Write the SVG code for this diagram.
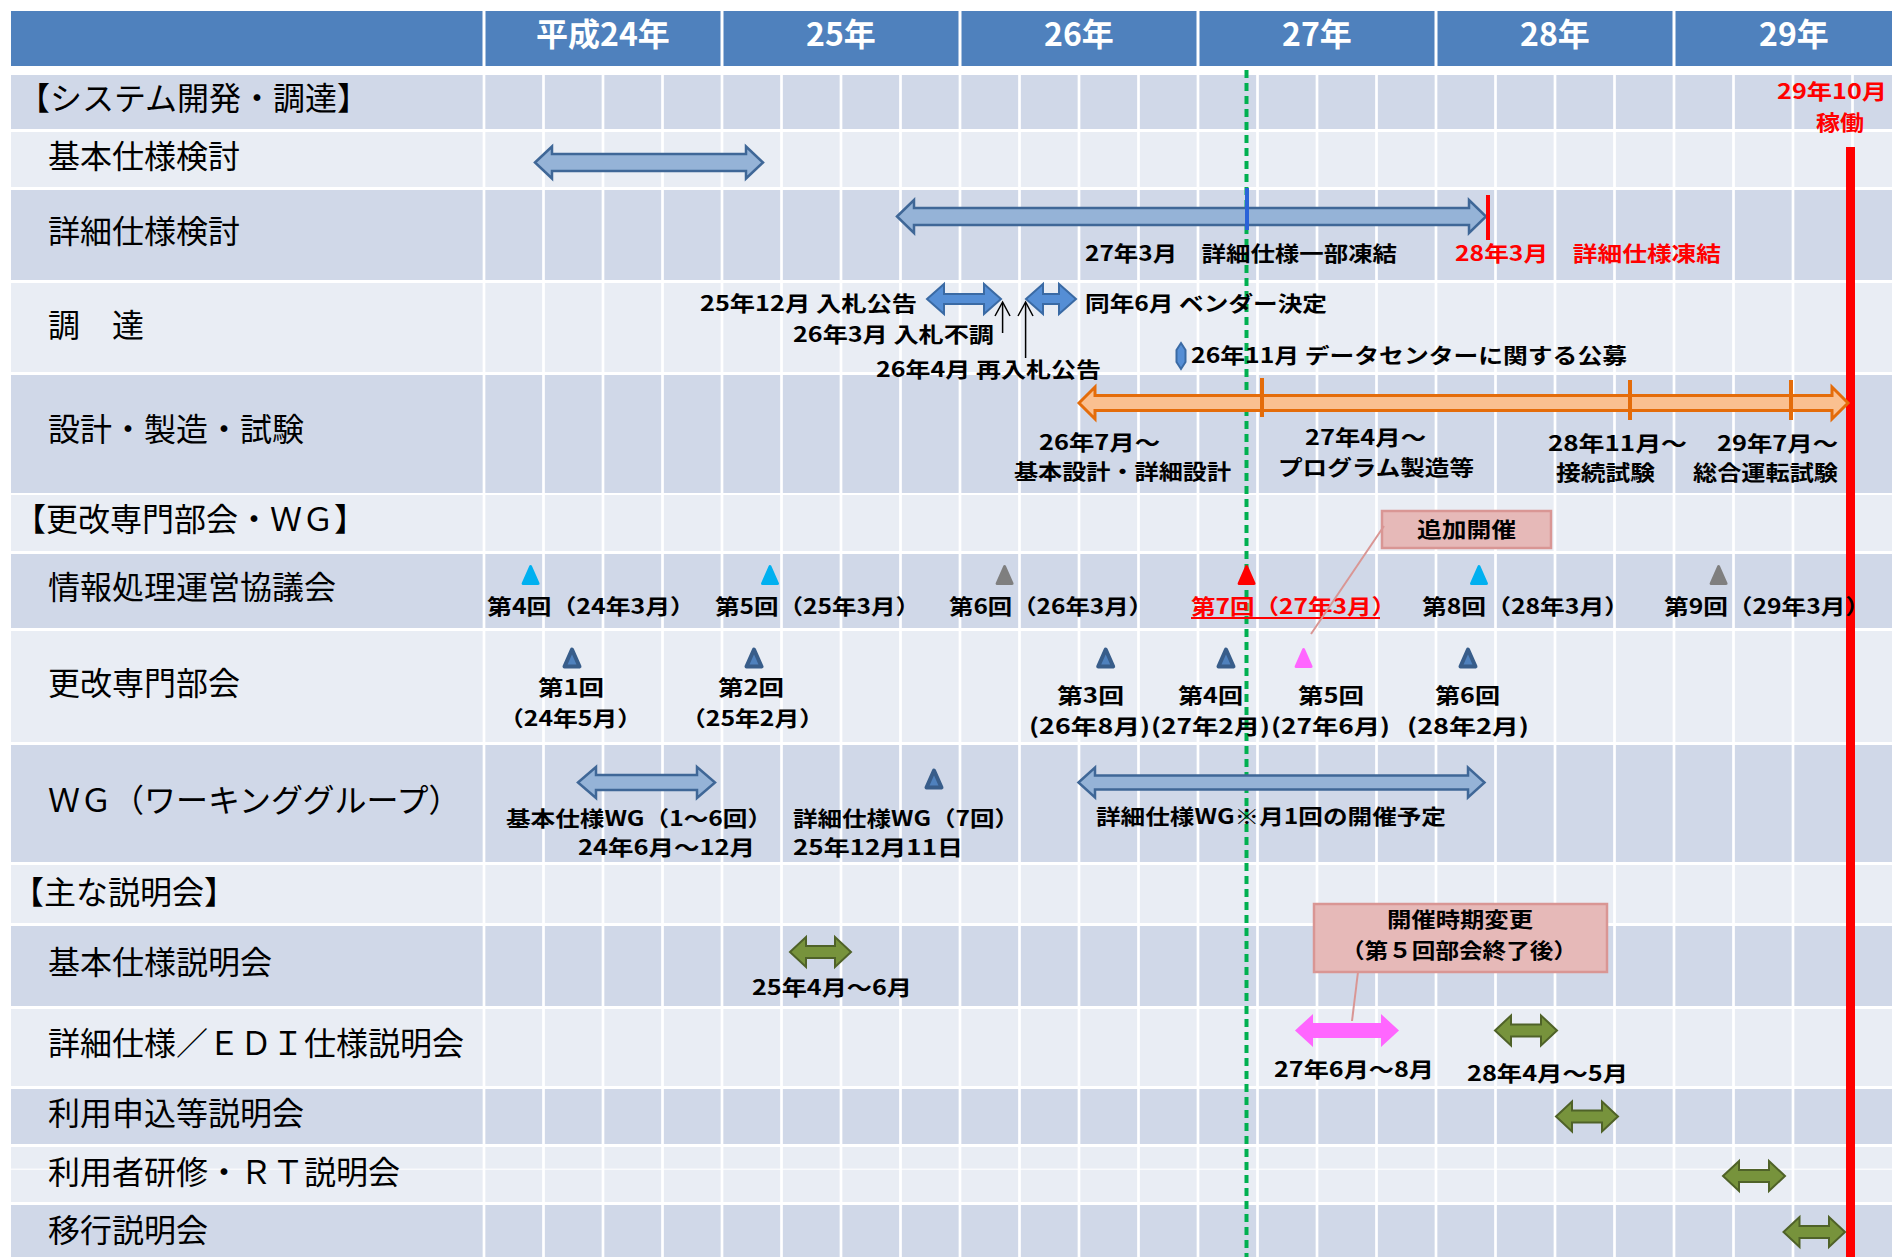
<svg xmlns="http://www.w3.org/2000/svg" xmlns:xlink="http://www.w3.org/1999/xlink" width="1892" height="1257" viewBox="0 0 1892 1257">
<style>
.lbl{font-family:"Noto Sans CJK JP","Noto Sans",sans-serif;font-size:32px;fill:#000}
.hdr{font-family:"Noto Sans CJK JP","Noto Sans",sans-serif;font-size:32px;font-weight:bold;fill:#fff;text-anchor:middle}
.ann{font-family:"Noto Sans CJK JP","Noto Sans",sans-serif;font-size:21px;font-weight:bold;fill:#000}
.red{fill:#ff0000}
.mid{text-anchor:middle}
.dk{fill:#d0d8e8}
.lt{fill:#e9edf4}
.grid{stroke:#fff;stroke-width:2.7}
.barL{fill:#95b3d7;stroke:#3f6797;stroke-width:2.5;stroke-linejoin:miter}
.barM{fill:#558ed5;stroke:#3a6aa4;stroke-width:2}
.barO{fill:#fac090;stroke:#e46c0a;stroke-width:3}
.tick{stroke:#e46c0a;stroke-width:4}
.grn{fill:#77933c;stroke:#4f6228;stroke-width:2}
.pnk{fill:#ff66ff}
.call{fill:#e6b9b8;stroke:#d99694;stroke-width:2.5}
.cline{stroke:#d99694;stroke-width:2;fill:none}
.thin{stroke:#000;stroke-width:1.5;fill:none}
.tC{fill:#00b0f0;stroke:#00b0f0;stroke-width:3;stroke-linejoin:round}
.tG{fill:#7f7f7f;stroke:#7f7f7f;stroke-width:3;stroke-linejoin:round}
.tR{fill:#ff0000;stroke:#ff0000;stroke-width:3;stroke-linejoin:round}
.tP{fill:#ff66ff;stroke:#ff66ff;stroke-width:3;stroke-linejoin:round}
.tB{fill:#4f81bd;stroke:#385d8a;stroke-width:4;stroke-linejoin:round}
</style>
<defs>
<path id="tri" d="M0,-8.5 L7.5,8.5 L-7.5,8.5 Z"/>
</defs>
<rect x="0" y="0" width="1892" height="1257" fill="#fff"/>
<g id="background">
<rect x="11" y="11" width="1881" height="55" fill="#4f81bd"/>
<g fill="#fff">
<rect x="482.5" y="11" width="3" height="55"/>
<rect x="720.5" y="11" width="3" height="55"/>
<rect x="958.5" y="11" width="3" height="55"/>
<rect x="1196.5" y="11" width="3" height="55"/>
<rect x="1434.5" y="11" width="3" height="55"/>
<rect x="1672.5" y="11" width="3" height="55"/>
</g>
<rect class="dk" x="11" y="75" width="1881" height="54"/>
<rect class="lt" x="11" y="132" width="1881" height="55"/>
<rect class="dk" x="11" y="190" width="1881" height="90"/>
<rect class="lt" x="11" y="283" width="1881" height="89"/>
<rect class="dk" x="11" y="375" width="1881" height="118"/>
<rect class="lt" x="11" y="495" width="1881" height="56"/>
<rect class="dk" x="11" y="554" width="1881" height="74"/>
<rect class="lt" x="11" y="631" width="1881" height="111"/>
<rect class="dk" x="11" y="745" width="1881" height="117"/>
<rect class="lt" x="11" y="865" width="1881" height="58"/>
<rect class="dk" x="11" y="926" width="1881" height="80"/>
<rect class="lt" x="11" y="1009" width="1881" height="77"/>
<rect class="dk" x="11" y="1089" width="1881" height="55"/>
<rect class="lt" x="11" y="1147" width="1881" height="55"/>
<rect class="dk" x="11" y="1205" width="1881" height="52"/>
<rect x="11" y="1168.5" width="1881" height="1.5" fill="#fff" opacity="0.7"/>
<g class="grid">
<line x1="484" y1="70" x2="484" y2="1257"/>
<line x1="543.5" y1="70" x2="543.5" y2="1257"/>
<line x1="603" y1="70" x2="603" y2="1257"/>
<line x1="662.5" y1="70" x2="662.5" y2="1257"/>
<line x1="722" y1="70" x2="722" y2="1257"/>
<line x1="781.5" y1="70" x2="781.5" y2="1257"/>
<line x1="841" y1="70" x2="841" y2="1257"/>
<line x1="900.5" y1="70" x2="900.5" y2="1257"/>
<line x1="960" y1="70" x2="960" y2="1257"/>
<line x1="1019.5" y1="70" x2="1019.5" y2="1257"/>
<line x1="1079" y1="70" x2="1079" y2="1257"/>
<line x1="1138.5" y1="70" x2="1138.5" y2="1257"/>
<line x1="1198" y1="70" x2="1198" y2="1257"/>
<line x1="1257.5" y1="70" x2="1257.5" y2="1257"/>
<line x1="1317" y1="70" x2="1317" y2="1257"/>
<line x1="1376.5" y1="70" x2="1376.5" y2="1257"/>
<line x1="1436" y1="70" x2="1436" y2="1257"/>
<line x1="1495.5" y1="70" x2="1495.5" y2="1257"/>
<line x1="1555" y1="70" x2="1555" y2="1257"/>
<line x1="1614.5" y1="70" x2="1614.5" y2="1257"/>
<line x1="1674" y1="70" x2="1674" y2="1257"/>
<line x1="1733.5" y1="70" x2="1733.5" y2="1257"/>
<line x1="1793" y1="70" x2="1793" y2="1257"/>
<line x1="1852.5" y1="70" x2="1852.5" y2="1257"/>
</g>
</g>
<g id="header">
<text class="hdr" x="603" y="46">平成24年</text>
<text class="hdr" x="841" y="46">25年</text>
<text class="hdr" x="1079" y="46">26年</text>
<text class="hdr" x="1317" y="46">27年</text>
<text class="hdr" x="1555" y="46">28年</text>
<text class="hdr" x="1794" y="46">29年</text>
</g>
<g id="row-labels">
<text class="lbl" x="18" y="110">【システム開発・調達】</text>
<text class="lbl" x="48" y="168">基本仕様検討</text>
<text class="lbl" x="48" y="243">詳細仕様検討</text>
<text class="lbl" x="48" y="337">調　達</text>
<text class="lbl" x="48" y="441">設計・製造・試験</text>
<text class="lbl" x="14" y="531">【更改専門部会・ＷＧ】</text>
<text class="lbl" x="48" y="599">情報処理運営協議会</text>
<text class="lbl" x="48" y="695">更改専門部会</text>
<text class="lbl" x="48" y="812">ＷＧ（ワーキンググループ）</text>
<text class="lbl" x="12" y="904">【主な説明会】</text>
<text class="lbl" x="48" y="974">基本仕様説明会</text>
<text class="lbl" x="48" y="1055">詳細仕様／ＥＤＩ仕様説明会</text>
<text class="lbl" x="48" y="1125">利用申込等説明会</text>
<text class="lbl" x="48" y="1184">利用者研修・ＲＴ説明会</text>
<text class="lbl" x="48" y="1242">移行説明会</text>
</g>
<g id="lines">
<line x1="1246.5" y1="70" x2="1246.5" y2="1257" stroke="#00b050" stroke-width="4" stroke-dasharray="8 5"/>
<rect x="1846" y="147" width="9" height="1110" fill="#ff0000"/>
</g>
<g id="node-kihon-shiyo">
<polygon class="barL" points="535,162.5 552,146.5 552,154 746,154 746,146.5 763,162.5 746,178.5 746,171 552,171 552,178.5"/>
</g>
<g id="node-shosai-shiyo">
<polygon class="barL" points="897,216.5 914,200 914,208 1469,208 1469,200 1486,216.5 1469,233 1469,225 914,225 914,233"/>
<rect x="1245" y="188" width="4" height="42" fill="#2a63d8"/>
<rect x="1486" y="195" width="4" height="45" fill="#ff0000"/>
<text class="ann" x="1085" y="261" textLength="312" lengthAdjust="spacingAndGlyphs">27年3月　詳細仕様一部凍結</text>
<text class="ann red" x="1455" y="261" textLength="266" lengthAdjust="spacingAndGlyphs">28年3月　詳細仕様凍結</text>
</g>
<g id="node-chotatsu">
<polygon class="barM" points="927,299 944,284 944,294 984,294 984,284 1001,299 984,314 984,304 944,304 944,314"/>
<polygon class="barM" points="1026,299 1043,284 1043,294 1059,294 1059,284 1076,299 1059,314 1059,304 1043,304 1043,314"/>
<polygon class="barM" points="1181,343 1185.5,350 1185.5,362 1181,369 1176.5,362 1176.5,350" stroke-width="1.5"/>
<text class="ann" x="700" y="311" textLength="217" lengthAdjust="spacingAndGlyphs">25年12月 入札公告</text>
<text class="ann" x="1085" y="311" textLength="242" lengthAdjust="spacingAndGlyphs">同年6月 ベンダー決定</text>
<text class="ann" x="793" y="342" textLength="201" lengthAdjust="spacingAndGlyphs">26年3月 入札不調</text>
<text class="ann" x="876" y="377" textLength="225" lengthAdjust="spacingAndGlyphs">26年4月 再入札公告</text>
<text class="ann" x="1191" y="363" textLength="436" lengthAdjust="spacingAndGlyphs">26年11月 データセンターに関する公募</text>
</g>
<g id="node-sekkei">
<polygon class="barO" points="1079,403 1095,387 1095,395.5 1832,395.5 1832,387 1848,403 1832,419 1832,410.5 1095,410.5 1095,419"/>
<line class="tick" x1="1262" y1="378" x2="1262" y2="417"/>
<line class="tick" x1="1630" y1="380" x2="1630" y2="420"/>
<line class="tick" x1="1791" y1="380" x2="1791" y2="420"/>
<text class="ann" x="1039" y="449.5" font-size="20" textLength="121" lengthAdjust="spacingAndGlyphs">26年7月～</text>
<text class="ann" x="1014" y="479" font-size="20" textLength="217" lengthAdjust="spacingAndGlyphs">基本設計・詳細設計</text>
<text class="ann" x="1305" y="445" font-size="20" textLength="121" lengthAdjust="spacingAndGlyphs">27年4月～</text>
<text class="ann" x="1278" y="475" font-size="20" textLength="196" lengthAdjust="spacingAndGlyphs">プログラム製造等</text>
<text class="ann" x="1548" y="450.5" font-size="20" textLength="139" lengthAdjust="spacingAndGlyphs">28年11月～</text>
<text class="ann" x="1556" y="480" font-size="20" textLength="99" lengthAdjust="spacingAndGlyphs">接続試験</text>
<text class="ann" x="1717" y="450.5" font-size="20" textLength="121" lengthAdjust="spacingAndGlyphs">29年7月～</text>
<text class="ann" x="1693" y="480" font-size="20" textLength="145" lengthAdjust="spacingAndGlyphs">総合運転試験</text>
</g>
<g id="node-kado">
<text class="ann red" x="1777" y="99" font-size="22" textLength="110" lengthAdjust="spacingAndGlyphs">29年10月</text>
<text class="ann red" x="1816" y="130" font-size="21" textLength="48" lengthAdjust="spacingAndGlyphs">稼働</text>
</g>
<g id="node-kyogikai">
<use xlink:href="#tri" href="#tri" class="tC" x="530.6" y="575"/>
<use xlink:href="#tri" href="#tri" class="tC" x="770" y="575"/>
<use xlink:href="#tri" href="#tri" class="tG" x="1004.6" y="575"/>
<use xlink:href="#tri" href="#tri" class="tR" x="1246.6" y="575"/>
<use xlink:href="#tri" href="#tri" class="tC" x="1479" y="575"/>
<use xlink:href="#tri" href="#tri" class="tG" x="1718.6" y="575"/>
<text class="ann" x="487" y="614" textLength="208" lengthAdjust="spacingAndGlyphs">第4回（24年3月）</text>
<text class="ann" x="715" y="614" textLength="205" lengthAdjust="spacingAndGlyphs">第5回（25年3月）</text>
<text class="ann" x="949" y="614" textLength="204" lengthAdjust="spacingAndGlyphs">第6回（26年3月）</text>
<text class="ann red" x="1191" y="614" textLength="205" lengthAdjust="spacingAndGlyphs">第7回（27年3月）</text>
<line x1="1191" y1="618" x2="1380" y2="618" stroke="#ff0000" stroke-width="2"/>
<text class="ann" x="1422" y="614" textLength="207" lengthAdjust="spacingAndGlyphs">第8回（28年3月）</text>
<text class="ann" x="1664" y="614" textLength="206" lengthAdjust="spacingAndGlyphs">第9回（29年3月）</text>
</g>
<g id="node-tsuika">
<rect class="call" x="1382" y="511" width="169" height="37"/>
<text class="ann" x="1417" y="537" textLength="99" lengthAdjust="spacingAndGlyphs">追加開催</text>
</g>
<g id="node-bukai">
<use xlink:href="#tri" href="#tri" class="tB" x="572" y="658"/>
<use xlink:href="#tri" href="#tri" class="tB" x="754" y="658"/>
<use xlink:href="#tri" href="#tri" class="tB" x="1105.7" y="658"/>
<use xlink:href="#tri" href="#tri" class="tB" x="1226" y="658"/>
<use xlink:href="#tri" href="#tri" class="tP" x="1303.6" y="658"/>
<use xlink:href="#tri" href="#tri" class="tB" x="1468" y="658"/>
<text class="ann" x="538" y="694.5" textLength="66" lengthAdjust="spacingAndGlyphs">第1回</text>
<text class="ann" x="499" y="725.5" textLength="143" lengthAdjust="spacingAndGlyphs">（24年5月）</text>
<text class="ann" x="718" y="694.5" textLength="66" lengthAdjust="spacingAndGlyphs">第2回</text>
<text class="ann" x="681" y="725.5" textLength="143" lengthAdjust="spacingAndGlyphs">（25年2月）</text>
<text class="ann" x="1057" y="702.5" textLength="67" lengthAdjust="spacingAndGlyphs">第3回</text>
<text class="ann" x="1178" y="702.5" textLength="65" lengthAdjust="spacingAndGlyphs">第4回</text>
<text class="ann" x="1298" y="702.5" textLength="66" lengthAdjust="spacingAndGlyphs">第5回</text>
<text class="ann" x="1435" y="702.5" textLength="65" lengthAdjust="spacingAndGlyphs">第6回</text>
<text class="ann" x="1029" y="733.5" textLength="121" lengthAdjust="spacingAndGlyphs">(26年8月)</text>
<text class="ann" x="1151" y="733.5" textLength="119" lengthAdjust="spacingAndGlyphs">(27年2月)</text>
<text class="ann" x="1271" y="733.5" textLength="119" lengthAdjust="spacingAndGlyphs">(27年6月)</text>
<text class="ann" x="1407" y="733.5" textLength="122" lengthAdjust="spacingAndGlyphs">(28年2月)</text>
</g>
<g id="node-wg">
<polygon class="barL" points="578,782.5 596,767 596,775 697,775 697,767 715,782.5 697,798 697,790 596,790 596,798" stroke-width="4.5" stroke="#3b6193"/>
<use xlink:href="#tri" href="#tri" class="tB" x="934" y="779"/>
<polygon class="barL" points="1078.5,782.5 1095,767.5 1095,775.5 1468,775.5 1468,767.5 1484.5,782.5 1468,797.5 1468,789.5 1095,789.5 1095,797.5" stroke-width="3"/>
<text class="ann" x="506" y="825.5" font-size="19.5" textLength="266" lengthAdjust="spacingAndGlyphs">基本仕様WG（1～6回）</text>
<text class="ann" x="578" y="854.5" font-size="19.5" textLength="177" lengthAdjust="spacingAndGlyphs">24年6月～12月</text>
<text class="ann" x="793" y="825.5" font-size="19.5" textLength="226" lengthAdjust="spacingAndGlyphs">詳細仕様WG（7回）</text>
<text class="ann" x="793" y="854.5" font-size="19.5" textLength="170" lengthAdjust="spacingAndGlyphs">25年12月11日</text>
<text class="ann" x="1096" y="824" textLength="350" lengthAdjust="spacingAndGlyphs">詳細仕様WG※月1回の開催予定</text>
</g>
<g id="node-kihon-setsumei">
<polygon class="grn" points="790,952 806,937 806,946 835,946 835,937 851,952 835,967 835,958 806,958 806,967"/>
<text class="ann" x="752" y="995" textLength="160" lengthAdjust="spacingAndGlyphs">25年4月～6月</text>
</g>
<g id="node-jiki-henko">
<rect class="call" x="1314" y="904" width="293" height="68"/>
<text class="ann" x="1387" y="926.5" font-size="20.5" textLength="146" lengthAdjust="spacingAndGlyphs">開催時期変更</text>
<text class="ann" x="1341" y="957.5" font-size="20.5" textLength="236" lengthAdjust="spacingAndGlyphs">（第５回部会終了後）</text>
</g>
<g id="node-shosai-setsumei">
<polygon class="pnk" points="1295,1030.5 1313,1014 1313,1023 1381,1023 1381,1014 1399,1030.5 1381,1047 1381,1038 1313,1038 1313,1047"/>
<polygon class="grn" points="1495,1030.5 1511,1015.5 1511,1024.5 1541,1024.5 1541,1015.5 1557,1030.5 1541,1045.5 1541,1036.5 1511,1036.5 1511,1045.5"/>
<text class="ann" x="1274" y="1077" textLength="160" lengthAdjust="spacingAndGlyphs">27年6月～8月</text>
<text class="ann" x="1467" y="1081" textLength="161" lengthAdjust="spacingAndGlyphs">28年4月～5月</text>
</g>
<g id="node-riyo-moushikomi">
<polygon class="grn" points="1556,1116.5 1572,1101.5 1572,1110.5 1602,1110.5 1602,1101.5 1618,1116.5 1602,1131.5 1602,1122.5 1572,1122.5 1572,1131.5"/>
</g>
<g id="node-riyosha-kenshu">
<polygon class="grn" points="1723,1176 1739,1161 1739,1170 1769,1170 1769,1161 1785,1176 1769,1191 1769,1182 1739,1182 1739,1191"/>
</g>
<g id="node-iko">
<polygon class="grn" points="1783.5,1232 1799.5,1217 1799.5,1226 1829,1226 1829,1217 1845,1232 1829,1247 1829,1238 1799.5,1238 1799.5,1247"/>
</g>
<g id="connectors">
<line class="cline" x1="1384" y1="526" x2="1311" y2="634"/>
<line class="cline" x1="1358" y1="972" x2="1352" y2="1021"/>
<line class="thin" x1="1002.6" y1="303" x2="1002.6" y2="333"/>
<polyline class="thin" points="995,316 1002.6,302 1010,316"/>
<line class="thin" x1="1025.6" y1="303" x2="1025.6" y2="358"/>
<polyline class="thin" points="1018,316 1025.6,302 1033,316"/>
</g>
</svg>
